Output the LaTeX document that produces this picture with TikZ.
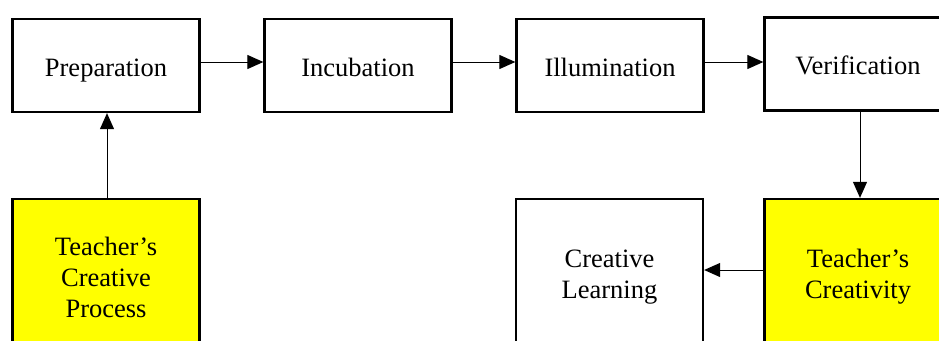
\documentclass[tikz,border=0pt]{standalone}
\usepackage{fontspec}
\setmainfont{Liberation Serif}
\usetikzlibrary{arrows.meta}
\definecolor{hlyellow}{RGB}{255,255,0}
\begin{document}
\begin{tikzpicture}[x=1pt,y=1pt,
  box/.style={draw=black,line width=2.3pt,minimum width=187pt,inner sep=0pt,align=center,
    font=\fontsize{26.5}{31}\selectfont},
  topbox/.style={box,minimum height=93pt,text height=25pt,text depth=4pt},
  lowbox/.style={box,minimum height=156pt},
  hl/.style={fill=hlyellow},
  conn/.style={line width=1pt,-{Triangle[length=16pt,width=14pt]}}]
\useasboundingbox (0,0) rectangle (939,-340);
\node[topbox] (prep) at (106,-65.5) {Preparation};
\node[topbox] (incu) at (358,-65.5) {Incubation};
\node[topbox] (illu) at (610,-65.5) {Illumination};
\node[topbox] (veri) at (858,-64) {Verification};
\node[lowbox,hl] (tcp) at (106,-277) {Teacher's\\Creative\\Process};
\node[lowbox] (cl) at (609.5,-277) {Creative\\Learning};
\node[lowbox,hl] (tc) at (858,-277) {Teacher's\\Creativity};
\draw[conn] (prep.east |- 0,-62) -- (incu.west |- 0,-62);
\draw[conn] (incu.east |- 0,-62) -- (illu.west |- 0,-62);
\draw[conn] (illu.east |- 0,-62) -- (veri.west |- 0,-62);
\draw[conn] (veri.south -| 860,0) -- (tc.north -| 860,0);
\draw[conn] (tc.west |- 0,-270) -- (cl.east |- 0,-270);
\draw[conn] (tcp.north -| 107,0) -- (prep.south -| 107,0);
\end{tikzpicture}
\end{document}
